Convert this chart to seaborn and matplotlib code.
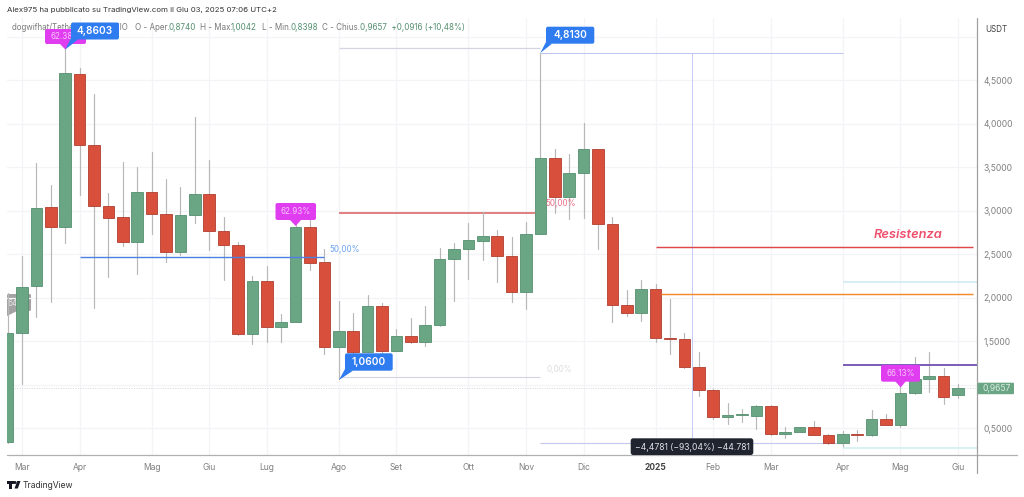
import matplotlib
matplotlib.use("Agg")
import matplotlib.pyplot as plt
from matplotlib.patches import FancyBboxPatch, Polygon, Rectangle, Circle
import pandas as pd
import seaborn as sns

# ---------- weekly candles (USDT) ----------
opens = [0.339,1.595,2.129,3.040,2.814,4.569,3.753,3.052,2.922,2.641,3.213,2.963,2.523,2.945,3.193,2.768,2.600,
         1.577,2.190,1.657,1.722,2.814,2.408,1.428,1.618,1.377,1.902,1.389,1.561,1.492,1.684,2.443,2.554,2.653,
         2.710,2.480,2.067,2.733,3.607,3.159,3.431,3.707,2.848,1.910,1.825,2.094,1.534,1.526,1.201,0.937,0.630,
         0.649,0.641,0.753,0.431,0.457,0.508,0.423,0.324,0.431,0.416,0.603,0.538,0.899,1.063,1.094,0.8740]
closes = [1.595,2.124,3.029,2.814,4.577,3.753,3.055,2.917,2.641,3.213,2.963,2.523,2.948,3.193,2.768,2.600,1.577,
          2.190,1.657,1.722,2.814,2.400,1.428,1.618,1.377,1.902,1.389,1.557,1.492,1.684,2.443,2.554,2.661,2.707,
          2.480,2.067,2.733,3.607,3.159,3.434,3.707,2.845,1.910,1.825,2.094,1.534,1.523,1.201,0.940,0.630,0.646,
          0.657,0.749,0.431,0.457,0.508,0.423,0.324,0.431,0.416,0.603,0.538,0.899,1.060,1.094,0.860,0.9657]
highs = [2.050,2.477,3.546,3.293,4.860,4.638,4.339,3.205,3.557,3.500,3.672,3.362,3.274,4.075,3.580,2.922,2.638,
         2.247,2.362,1.810,2.833,2.891,2.557,1.960,1.822,2.029,1.937,1.638,1.764,1.902,2.569,2.626,2.860,2.979,
         2.776,2.695,2.871,4.813,3.707,3.649,4.009,3.710,2.925,2.086,2.201,2.155,1.983,1.595,1.370,0.948,0.784,
         0.718,0.768,0.764,0.515,0.515,0.577,0.431,0.466,0.477,0.707,0.661,0.983,1.313,1.377,1.186,1.0042]
lows = [0.333,1.006,1.779,1.948,2.626,3.178,1.883,2.239,2.592,2.270,2.730,2.411,2.489,2.856,2.546,2.201,1.575,
        1.466,1.489,1.492,1.718,2.316,1.351,1.060,1.339,1.374,1.362,1.385,1.477,1.443,1.672,1.963,2.213,2.431,
        2.178,1.952,1.868,2.730,2.971,2.902,2.917,2.557,1.722,1.791,1.730,1.489,1.351,1.195,0.871,0.603,0.546,
        0.572,0.489,0.425,0.389,0.454,0.420,0.320,0.282,0.354,0.408,0.534,0.515,0.894,0.917,0.779,0.8398]

month_idx = [1,5,10,14,18,23,27,32,36,40,45,49,53,58,62,66]
month_labels = ["Mar","Apr","Mag","Giu","Lug","Ago","Set","Ott","Nov","Dic","2025","Feb","Mar","Apr","Mag","Giu"]
price_ticks = [0.5,1.5,2.0,2.5,3.0,3.5,4.0,4.5]
price_labels = ["0,5000","1,5000","2,0000","2,5000","3,0000","3,5000","4,0000","4,5000"]
last_price = 0.9657

GREEN, GREEN_E = "#6aa584", "#558f70"
RED, RED_E = "#d84f3c", "#b03f30"
SMALL = 5.8

sns.set_theme(style="white")
plt.rcParams["font.family"] = ["Inter", "DejaVu Sans"]

fig = plt.figure(figsize=(10.24, 4.97), dpi=100, facecolor="white")
ax = fig.add_axes([7/1024, (497-455)/497, (977-7)/1024, (455-18)/497])
ax.set_xlim(-0.04, 67.32)
ax.set_ylim(0.19, 5.213)
for s in ax.spines.values():
    s.set_visible(False)

# grid
ax.set_axisbelow(True)
ax.set_xticks(month_idx, month_labels)
ax.set_yticks(price_ticks, price_labels)
ax.set_yticks([1.0, 5.0], minor=True)
ax.grid(True, which="both", color="#f3f4f7", lw=0.9)
ax.yaxis.tick_right()
ax.tick_params(axis="both", which="both", length=0, labelsize=6.1, labelcolor="#7f7f7f")
ax.tick_params(axis="x", pad=5.5)
ax.tick_params(axis="y", pad=4.8)
for lab, name in zip(ax.get_xticklabels(), month_labels):
    if name == "2025":
        lab.set_fontweight("bold")
        lab.set_color("#444444")

# levels below candles
ax.hlines(last_price, -0.04, 67.32, color="#d6d6d6", lw=0.7, ls=(0, (1, 1.5)), zorder=1)
ax.hlines(2.969, 23, 36.6, color="#dd7475", lw=1.3, zorder=1.5)
ax.hlines(4.869, 23, 37, color="#d3d5e2", lw=0.9, zorder=1.5)
ax.hlines(4.813, 37, 58, color="#bcc5f0", lw=0.7, zorder=1.5)
ax.hlines(1.083, 23, 37, color="#d3d5e4", lw=0.8, zorder=1.5)
ax.hlines(0.327, 37, 58, color="#c4c8ec", lw=0.8, zorder=1.5)
ax.vlines(47.5, 0.327, 4.813, color="#c6c9f2", lw=0.7, zorder=1.5)

# wicks
wick_df = pd.DataFrame({
    "idx": list(range(len(opens))) * 2,
    "price": highs + lows,
})
sns.lineplot(data=wick_df, x="idx", y="price", units="idx", estimator=None, sort=False,
             color="#b8b8b8", lw=0.85, ax=ax, legend=False, zorder=2)
ax.set_xlabel("")
ax.set_ylabel("")

# bodies
for i, (o, c) in enumerate(zip(opens, closes)):
    up = c >= o
    ax.bar(i, abs(c - o), bottom=min(o, c), width=0.8,
           color=GREEN if up else RED, edgecolor=GREEN_E if up else RED_E, lw=0.6, zorder=3)

# levels above candles
ax.hlines(2.465, 5, 22, color="#4d80e0", lw=1.0, zorder=4)
ax.hlines(2.577, 45, 67.04, color="#e0474a", lw=1.05, zorder=4)
ax.hlines(2.037, 45.4, 67.04, color="#f08a2a", lw=1.05, zorder=4)
ax.hlines(2.178, 58, 67.32, color="#cde8f2", lw=1.1, zorder=4)
ax.hlines(1.227, 58, 67.32, color="#7c5cb8", lw=1.4, zorder=4)
ax.hlines(0.274, 58, 67.32, color="#cdefef", lw=1.1, zorder=4)

# overlay in pixel coordinates for the annotations
ov = fig.add_axes([0, 0, 1, 1], zorder=10)
ov.set_xlim(0, 1024)
ov.set_ylim(497, 0)
ov.axis("off")
ov.patch.set_alpha(0)

ov.plot([7, 1017], [455, 455], color="#b0b0b0", lw=0.9)
ov.plot([977, 977], [18, 473], color="#a0a0a0", lw=0.9)


def callout(x0, x1, y0, y1, tip, base, color, text, tcolor, fs, weight="normal", z=5):
    ov.add_patch(Polygon([base[0], base[1], tip], closed=True, color=color, lw=0, zorder=z))
    ov.add_patch(FancyBboxPatch((x0, y0), x1 - x0, y1 - y0, boxstyle="round,pad=0,rounding_size=2",
                                fc=color, ec="none", zorder=z))
    ov.text((x0 + x1) / 2, (y0 + y1) / 2 + 0.3, text, color=tcolor, fontsize=fs, weight=weight,
            ha="center", va="center", zorder=z + 0.1)


# header and legend
ov.text(7, 10, "Alex975 ha pubblicato su TradingView.com il Giu 03, 2025 07:06 UTC+2",
        fontsize=5.65, color="#333333", va="center", ha="left", zorder=1)
legend_gray = "#7a7a7a"
legend_green = "#558f70"
ov.text(12, 28, "dogwifhat/Tether · 1S · GATEIO", fontsize=5.7, color=legend_gray, va="center", zorder=1)
ov.text(135, 28, "O - Aper.", fontsize=SMALL, color=legend_gray, va="center", zorder=1)
ov.text(168.7, 28, "0,8740", fontsize=SMALL, color=legend_green, va="center", zorder=1)
ov.text(200, 28, "H - Max.", fontsize=SMALL, color=legend_gray, va="center", zorder=1)
ov.text(231, 28, "1,0042", fontsize=SMALL, color=legend_green, va="center", zorder=1)
ov.text(262, 28, "L - Min.", fontsize=SMALL, color=legend_gray, va="center", zorder=1)
ov.text(290.7, 28, "0,8398", fontsize=SMALL, color=legend_green, va="center", zorder=1)
ov.text(322, 28, "C - Chius.", fontsize=SMALL, color=legend_gray, va="center", zorder=1)
ov.text(359.5, 28, "0,9657  +0,0916 (+10,48%)", fontsize=SMALL, color=legend_green, va="center", zorder=1)
ov.text(996, 29, "USDT", fontsize=5.8, color="#444444", ha="center", va="center")

# callouts
callout(45, 86, 29, 44, (65.3, 49.5), ((60, 44), (70, 44)), "#e03df0", "62.38%", "#f7c4fb", SMALL, z=5)
callout(71, 119, 22.5, 39.5, (65.3, 49.5), ((71, 38), (78, 39.5)), "#2f7bf0", "4,8603", "white", 7.3, "semibold", z=6)
callout(275.5, 316, 203, 220, (295.7, 226), ((290, 220), (301, 220)), "#e03df0", "62.93%", "#f7c4fb", SMALL)
callout(881, 920, 365, 381.7, (900.7, 387.5), ((895, 381), (906, 381)), "#e03df0", "66.13%", "#f7c4fb", SMALL)
callout(546, 594.3, 26.7, 43.7, (540.3, 53), ((546, 42), (552, 43.7)), "#2f7bf0", "4,8130", "white", 7.3, "semibold")
callout(345, 392.7, 353.3, 370.7, (339, 380), ((345, 369), (353, 370.7)), "#2f7bf0", "1,0600", "white", 7.3, "semibold")

# grey label sits behind the first candles
ov_grey = fig.add_axes([0, 0, 1, 1], zorder=-1)
ov_grey.set_xlim(0, 1024)
ov_grey.set_ylim(497, 0)
ov_grey.axis("off")
ov_grey.add_patch(FancyBboxPatch((7, 294), 24, 17, boxstyle="round,pad=0,rounding_size=1.5", fc="#a3a3a3", ec="none"))
ov_grey.add_patch(Polygon([(7, 316), (7, 305), (17, 311)], closed=True, color="#a3a3a3", lw=0))
ov_grey.text(8, 303, "64", color="#e6e6e6", fontsize=SMALL, va="center")
ax.patch.set_alpha(0)

ov.text(561, 204, "50,00%", color="#ee6f88", fontsize=SMALL, ha="center", va="center")
ov.text(345, 249.5, "50,00%", color="#6ba3f0", fontsize=SMALL, ha="center", va="center")
ov.text(559, 370, "0,00%", color="#dcdcdc", fontsize=SMALL, ha="center", va="center")
ov.text(908, 235, "Resistenza", color="#ee4f6c", fontsize=9.3, style="italic", weight="semibold",
        ha="center", va="center")

ov.add_patch(FancyBboxPatch((630.7, 438.3), 122.6, 16.7, boxstyle="round,pad=0,rounding_size=2.5",
                            fc="#20242f", ec="none", zorder=5))
ov.text(692, 447, "−4,4781 (−93,04%) −44.781", color="#dfe1e6", fontsize=6.2, ha="center", va="center", zorder=6)

ov.add_patch(FancyBboxPatch((977.5, 382.7), 36.5, 11.5, boxstyle="round,pad=0,rounding_size=1",
                            fc="#6aa584", ec="none", zorder=5))
ov.text(997, 388.6, "0,9657", color="#dcebe2", fontsize=6.1, ha="center", va="center", zorder=6)

# TradingView mark
ov.add_patch(Rectangle((7, 481), 6.5, 2.6, color="#131722", lw=0))
ov.add_patch(Rectangle((9.2, 481), 2.7, 7.5, color="#131722", lw=0))
ov.add_patch(Circle((15, 482.5), 1.5, color="#131722", lw=0))
ov.add_patch(Polygon([(14.5, 488.5), (17.2, 481), (20.5, 481), (17.8, 488.5)], closed=True, color="#131722", lw=0))
ov.text(23, 485.5, "TradingView", color="#333333", fontsize=6.2, va="center")

fig.savefig("out.png", dpi=100, facecolor="white")
